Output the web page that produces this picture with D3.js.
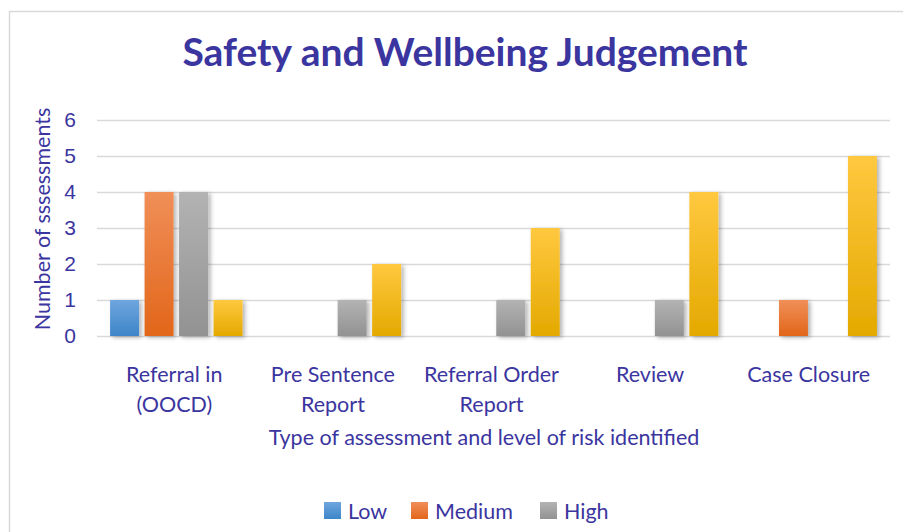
<!DOCTYPE html>
<html>
<head>
<meta charset="utf-8">
<script src="https://cdn.jsdelivr.net/npm/d3@7"></script>
<style>
  html, body { margin: 0; padding: 0; background: #fff; }
  svg { display: block; font-family: Lato, "Open Sans", sans-serif; }
  .txt { fill: #3b35a0; }
</style>
</head>
<body>
<div id="chart"></div>
<script>
const categories = [['Referral in', '(OOCD)'], ['Pre Sentence', 'Report'], ['Referral Order', 'Report'], ['Review'], ['Case Closure']];
const seriesNames = ['Low', 'Medium', 'High', 'Very High'];
const low = [1, 0, 0, 0, 0];
const medium = [4, 0, 0, 0, 1];
const high = [4, 1, 1, 1, 0];
const veryHigh = [1, 2, 3, 4, 5];
const yTicks = [0, 1, 2, 3, 4, 5, 6];
// only the first three legend entries fit in the picture
const legendShown = 3;

const seriesValues = [low, medium, high, veryHigh];
const colors = [
  ['#6fa6de', '#3d85c8'],
  ['#f08f58', '#e2661a'],
  ['#b3b3b3', '#929292'],
  ['#ffc83f', '#e4a900'],
];

const width = 903, height = 532;
const margin = { top: 120, right: 13, bottom: 196, left: 97 };
const iw = width - margin.left - margin.right;
const ih = height - margin.top - margin.bottom;

const svg = d3.select('#chart').append('svg')
  .attr('width', width).attr('height', height);

const defs = svg.append('defs');
colors.forEach(([top, bottom], i) => {
  const g = defs.append('linearGradient').attr('id', `grad${i}`)
    .attr('x1', 0).attr('y1', 0).attr('x2', 0).attr('y2', 1);
  g.append('stop').attr('offset', '0%').attr('stop-color', top);
  g.append('stop').attr('offset', '100%').attr('stop-color', bottom);
});
defs.append('filter').attr('id', 'shadow').attr('x', '-20%').attr('y', '-10%').attr('width', '150%').attr('height', '130%')
  .append('feDropShadow').attr('dx', 2.5).attr('dy', 1.5).attr('stdDeviation', 2)
  .attr('flood-color', '#000').attr('flood-opacity', 0.3);

// chart frame
svg.append('rect').attr('x', 9.5).attr('y', 11.5).attr('width', 905).attr('height', 540)
  .attr('fill', '#fff').attr('stroke', '#d9d9d9').attr('stroke-width', 1.5);

svg.append('text').attr('class', 'txt')
  .attr('x', 465).attr('y', 66).attr('text-anchor', 'middle')
  .attr('font-size', 39).attr('font-weight', 'bold')
  .text('Safety and Wellbeing Judgement');

const g = svg.append('g').attr('transform', `translate(${margin.left},${margin.top})`);

const x0 = d3.scaleBand().domain(d3.range(categories.length)).range([0, iw]).paddingInner(0.165).paddingOuter(0.0825);
const x1 = d3.scaleBand().domain(d3.range(seriesNames.length)).range([0, x0.bandwidth()]).paddingInner(0.16);
const y = d3.scaleLinear().domain([0, 6]).range([ih, 0]);

// gridlines
g.append('g')
  .call(d3.axisLeft(y).tickValues(yTicks).tickSize(-iw).tickFormat(''))
  .call(a => a.select('.domain').remove())
  .call(a => a.selectAll('line').attr('stroke', '#d9d9d9').attr('stroke-width', 1.5));

// y tick labels
g.append('g')
  .call(d3.axisLeft(y).tickValues(yTicks).tickSize(0).tickPadding(21).tickFormat(d3.format('d')))
  .call(a => a.select('.domain').remove())
  .call(a => a.selectAll('text').attr('class', 'txt').attr('font-size', 21).attr('font-family', null));

const groups = g.append('g').selectAll('g')
  .data(categories)
  .join('g')
  .attr('transform', (d, i) => `translate(${x0(i)},0)`);

groups.selectAll('rect')
  .data((d, ci) => seriesValues.map((vals, si) => ({ si, v: vals[ci] })).filter(d => d.v > 0))
  .join('rect')
  .attr('x', d => x1(d.si))
  .attr('width', x1.bandwidth())
  .attr('y', d => y(d.v))
  .attr('height', d => ih - y(d.v))
  .attr('fill', d => `url(#grad${d.si})`)
  .attr('filter', 'url(#shadow)');

// category labels
const catG = g.append('g');
categories.forEach((lines, i) => {
  const cx = x0(i) + x0.bandwidth() / 2 - 2;
  const t = catG.append('text').attr('class', 'txt')
    .attr('x', cx).attr('y', ih + 46)
    .attr('text-anchor', 'middle').attr('font-size', 21.5);
  lines.forEach((ln, j) => t.append('tspan')
    .attr('x', cx).attr('dy', j ? 30 : 0).text(ln));
});

svg.append('text').attr('class', 'txt')
  .attr('x', 484).attr('y', 445).attr('text-anchor', 'middle').attr('font-size', 21.5)
  .text('Type of assessment and level of risk identified');

svg.append('text').attr('class', 'txt')
  .attr('transform', `translate(50,${margin.top + ih / 2 - 9}) rotate(-90)`)
  .attr('text-anchor', 'middle').attr('font-size', 21.5)
  .text('Number of sssessments');

const legendX = [324, 411, 540];
const legend = svg.append('g');
seriesNames.slice(0, legendShown).forEach((name, i) => {
  const lx = legendX[i];
  const ly = 502;
  legend.append('rect').attr('x', lx).attr('y', ly).attr('width', 17).attr('height', 17)
    .attr('fill', `url(#grad${i})`);
  legend.append('text').attr('class', 'txt')
    .attr('x', lx + 24).attr('y', ly + 17).attr('font-size', 21.5).text(name);
});
</script>
</body>
</html>
